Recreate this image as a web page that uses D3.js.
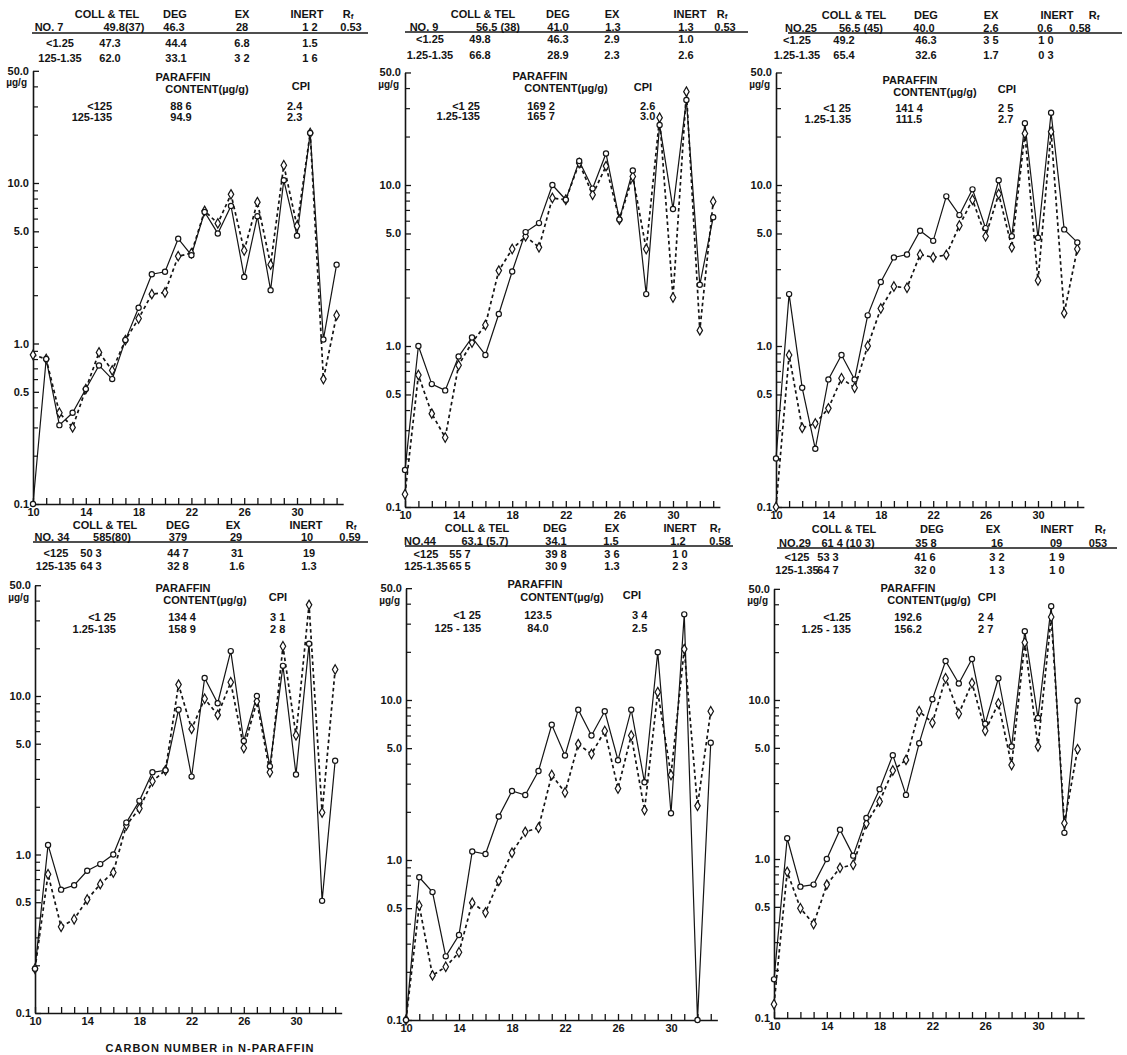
<!DOCTYPE html>
<html>
<head>
<meta charset="utf-8">
<script src="https://cdn.jsdelivr.net/npm/d3@7"></script>
<style>
  body { margin: 0; background: #fff; }
  svg text { font-family: "Liberation Sans", Arial, sans-serif; font-weight: 700; font-size: 11px; fill: #141414; }
  .axis path, .axis line { stroke: #141414; }
</style>
</head>
<body>
<svg id="fig" width="1127" height="1055"></svg>
<script>
// n-paraffin distribution, 6 samples (log scale, µg/g)

const CARBONS = [10, 11, 12, 13, 14, 15, 16, 17, 18, 19, 20, 21, 22, 23, 24, 25, 26, 27, 28, 29, 30, 31, 32, 33];
const X_TICK_LABELS = [10, 14, 18, 22, 26, 30];
const Y_MAJOR = [0.1, 0.5, 1, 5, 10, 50];
const Y_MAJOR_LABELS = ["0.1", "0.5", "1.0", "5.0", "10.0", "50.0"];
const Y_MINOR = [0.2, 0.3, 0.4, 0.6, 0.7, 0.8, 0.9, 2, 3, 4, 6, 7, 8, 9, 20, 30, 40];

const COMP_HEADER = ["COLL & TEL", "DEG", "EX", "INERT", "R"];

// solid line (circles) / dashed line (diamonds), C10..C33
const SOLID_NO7  = [0.1, 0.8, 0.31, 0.37, 0.52, 0.73, 0.6, 1.05, 1.67, 2.7, 2.8, 4.5, 3.55, 6.6, 4.85, 7.2, 2.6, 6.2, 2.15, 10.4, 4.7, 20.5, 1.06, 3.1];
const DASHED_NO7 = [0.85, 0.8, 0.37, 0.3, 0.52, 0.88, 0.68, 1.05, 1.43, 2.03, 2.08, 3.5, 3.65, 6.7, 5.6, 8.5, 3.8, 7.6, 3.1, 12.9, 5.4, 20.5, 0.6, 1.5];

const SOLID_NO9  = [0.17, 1.0, 0.58, 0.53, 0.86, 1.13, 0.88, 1.58, 2.9, 5.1, 5.8, 10.0, 8.1, 14.1, 9.5, 15.7, 6.1, 12.3, 2.1, 23.6, 7.1, 33.7, 2.4, 6.3];
const DASHED_NO9 = [0.12, 0.66, 0.38, 0.27, 0.76, 1.05, 1.35, 2.94, 4.0, 4.8, 4.1, 8.3, 8.1, 13.7, 8.7, 13.1, 6.1, 11.3, 4.0, 26.2, 2.0, 38.0, 1.25, 7.9];

const SOLID_NO25  = [0.2, 2.1, 0.55, 0.23, 0.62, 0.88, 0.62, 1.55, 2.5, 3.55, 3.7, 5.2, 4.5, 8.5, 6.5, 9.4, 5.4, 10.7, 4.8, 24.2, 4.7, 28.1, 5.3, 4.4];
const DASHED_NO25 = [0.1, 0.88, 0.31, 0.33, 0.41, 0.63, 0.55, 1.0, 1.71, 2.34, 2.3, 3.7, 3.55, 3.68, 5.6, 8.1, 4.8, 8.8, 4.1, 20.9, 2.55, 21.4, 1.6, 4.0];

const SOLID_NO34  = [0.19, 1.15, 0.6, 0.64, 0.79, 0.87, 1.0, 1.59, 2.18, 3.3, 3.4, 8.2, 3.1, 13.0, 9.0, 19.2, 5.2, 10.0, 3.6, 15.5, 3.2, 21.4, 0.51, 3.9];
const DASHED_NO34 = [0.19, 0.75, 0.35, 0.39, 0.52, 0.65, 0.77, 1.53, 1.95, 2.9, 3.4, 11.8, 6.2, 9.6, 7.6, 12.2, 4.7, 9.25, 3.3, 20.6, 5.65, 37.6, 1.84, 14.7];

const SOLID_NO44  = [0.1, 0.78, 0.63, 0.25, 0.34, 1.13, 1.09, 1.87, 2.7, 2.55, 3.6, 7.0, 4.5, 8.7, 6.0, 8.5, 4.2, 8.7, 3.06, 19.9, 1.96, 34.3, 0.1, 5.4];
const DASHED_NO44 = [0.1, 0.52, 0.19, 0.215, 0.265, 0.54, 0.47, 0.74, 1.11, 1.5, 1.59, 3.4, 2.64, 5.3, 4.6, 6.4, 2.8, 6.0, 2.05, 11.2, 3.4, 20.8, 2.18, 8.5];

const SOLID_NO29  = [0.175, 1.35, 0.67, 0.69, 1.0, 1.53, 1.05, 1.81, 2.75, 4.5, 2.53, 5.35, 10.1, 17.6, 12.7, 18.1, 7.1, 13.7, 5.1, 27.1, 7.7, 38.9, 1.46, 9.9];
const DASHED_NO29 = [0.122, 0.83, 0.49, 0.39, 0.69, 0.88, 0.92, 1.67, 2.3, 3.6, 4.2, 8.5, 7.2, 13.7, 8.2, 12.8, 6.4, 9.5, 3.9, 23.0, 5.1, 33.3, 1.68, 4.9];

// composition tables (as printed)
const COMP_NO7  = [["NO. 7", "49.8(37)", "46.3", "28", "1 2", "0.53"], ["<1.25", "47.3", "44.4", "6.8", "1.5"], ["125-1.35", "62.0", "33.1", "3 2", "1 6"]];
const COMP_NO9  = [["NO. 9", "56.5 (38)", "41.0", "1.3", "1.3", "0.53"], ["<1.25", "49.8", "46.3", "2.9", "1.0"], ["1.25-1.35", "66.8", "28.9", "2.3", "2.6"]];
const COMP_NO25 = [["NO.25", "56.5 (45)", "40.0", "2.6", "0.6", "0.58"], ["<1.25", "49.2", "46.3", "3 5", "1 0"], ["1.25-1.35", "65.4", "32.6", "1.7", "0 3"]];
const COMP_NO34 = [["NO. 34", "585(80)", "379", "29", "10", "0.59"], ["<125", "50 3", "44 7", "31", "19"], ["125-135", "64 3", "32 8", "1.6", "1.3"]];
const COMP_NO44 = [["NO.44", "63.1 (5.7)", "34.1", "1.5", "1.2", "0.58"], ["<125", "55 7", "39 8", "3 6", "1 0"], ["125-1.35", "65 5", "30 9", "1.3", "2 3"]];
const COMP_NO29 = [["NO.29", "61 4 (10 3)", "35 8", "16", "09", "053"], ["<125", "53 3", "41 6", "3 2", "1 9"], ["125-1.35", "64 7", "32 0", "1 3", "1 0"]];

// paraffin content / CPI
const PAR_NO7  = [["<125", "88 6", "2.4"], ["125-135", "94.9", "2.3"]];
const PAR_NO9  = [["<1 25", "169 2", "2.6"], ["1.25-135", "165 7", "3.0"]];
const PAR_NO25 = [["<1 25", "141 4", "2 5"], ["1.25-1.35", "111.5", "2.7"]];
const PAR_NO34 = [["<1 25", "134 4", "3 1"], ["1.25-135", "158 9", "2 8"]];
const PAR_NO44 = [["<1 25", "123.5", "3 4"], ["125 - 135", "84.0", "2.5"]];
const PAR_NO29 = [["<1.25", "192.6", "2 4"], ["1.25 - 135", "156.2", "2 7"]];

const PANELS = [
  { solid: SOLID_NO7,  dashed: DASHED_NO7,  comp: COMP_NO7,  par: PAR_NO7 },
  { solid: SOLID_NO9,  dashed: DASHED_NO9,  comp: COMP_NO9,  par: PAR_NO9 },
  { solid: SOLID_NO25, dashed: DASHED_NO25, comp: COMP_NO25, par: PAR_NO25 },
  { solid: SOLID_NO34, dashed: DASHED_NO34, comp: COMP_NO34, par: PAR_NO34 },
  { solid: SOLID_NO44, dashed: DASHED_NO44, comp: COMP_NO44, par: PAR_NO44 },
  { solid: SOLID_NO29, dashed: DASHED_NO29, comp: COMP_NO29, par: PAR_NO29 },
];

// page layout of each panel
const LAYOUT = [
  { x0: 33,  step: 13.2,  yB: 504,  yT: 183,
    tb: { hY: 14, r1Y: 27, r2Y: 43, r3Y: 58, ulY: 33, ulX: [32, 368], hX: [107, 175, 242, 307, 348], r1X: [49, 124, 174, 242, 310, 351], rX: [60, 110, 176, 242, 310] },
    lg: { labR: 112, parC: 183, conC: 207, valC: 181, cpiL: 287, cpiHC: 301, yPar: 77, yCon: 89, yCpi: 86, y1: 106, y2: 117 } },
  { x0: 405, step: 13.4,  yB: 507,  yT: 185,
    tb: { hY: 14, r1Y: 27, r2Y: 39, r3Y: 55, ulY: 32, ulX: [405, 748], hX: [483, 558, 612, 690, 722], r1X: [424, 498, 558, 613, 686, 725], rX: [430, 480, 558, 612, 686] },
    lg: { labR: 480, parC: 540, conC: 566, valC: 541, cpiL: 640, cpiHC: 643, yPar: 76, yCon: 88, yCpi: 87, y1: 106, y2: 116 } },
  { x0: 776, step: 13.1,  yB: 507,  yT: 185,
    tb: { hY: 15, r1Y: 28, r2Y: 40, r3Y: 55, ulY: 33, ulX: [788, 1122], hX: [854, 926, 991, 1057, 1094], r1X: [801, 861, 924, 991, 1045, 1080], rX: [797, 844, 926, 991, 1046] },
    lg: { labR: 851, parC: 910, conC: 935, valC: 909, cpiL: 998, cpiHC: 1007, yPar: 80, yCon: 92, yCpi: 89, y1: 108, y2: 119 } },
  { x0: 35,  step: 13.05, yB: 1013, yT: 696,
    tb: { hY: 525, r1Y: 537, r2Y: 553, r3Y: 566, ulY: 542, ulX: [33, 368], hX: [105, 178, 233, 306, 351], r1X: [52, 112, 178, 236, 307, 350], rX: [56, 91, 178, 237, 309] },
    lg: { labR: 116, parC: 183, conC: 205, valC: 182, cpiL: 270, cpiHC: 278, yPar: 588, yCon: 600, yCpi: 597, y1: 617, y2: 629 } },
  { x0: 406, step: 13.25, yB: 1020, yT: 700,
    tb: { hY: 528, r1Y: 541, r2Y: 554, r3Y: 566, ulY: 546, ulX: [405, 733], hX: [477, 555, 612, 680, 715], r1X: [420, 485, 556, 611, 678, 720], rX: [426, 460, 556, 612, 680] },
    lg: { labR: 481, parC: 535, conC: 562, valC: 538, cpiL: 632, cpiHC: 632, yPar: 584, yCon: 597, yCpi: 595, y1: 615, y2: 628 } },
  { x0: 774, step: 13.2,  yB: 1018, yT: 700,
    tb: { hY: 529, r1Y: 543, r2Y: 557, r3Y: 570, ulY: 548, ulX: [777, 1117], hX: [844, 932, 993, 1057, 1100], r1X: [795, 848, 926, 997, 1056, 1098], rX: [797, 828, 925, 997, 1057] },
    lg: { labR: 851, parC: 908, conC: 929, valC: 908, cpiL: 978, cpiHC: 987, yPar: 588, yCon: 600, yCpi: 597, y1: 617, y2: 629 } },
];

const svg = d3.select("#fig");

PANELS.forEach((p, i) => drawPanel(p, LAYOUT[i]));

svg.append("text")
  .attr("x", 210).attr("y", 1048).attr("dy", "0.35em")
  .attr("text-anchor", "middle")
  .style("letter-spacing", "1px")
  .text("CARBON NUMBER in N-PARAFFIN");

function drawPanel(p, L) {
  const g = svg.append("g");
  const dec = (L.yB - L.yT) / 2;

  const x = d3.scaleLinear()
    .domain([10, 33.5])
    .range([L.x0, L.x0 + 23.5 * L.step]);
  const y = d3.scaleLog()
    .domain([0.1, 50])
    .range([L.yB, L.yB - dec * Math.log10(500)]);

  // axe Y : graduations mineures puis majeures (vers l'intérieur)
  g.append("g")
    .attr("class", "axis")
    .attr("transform", `translate(${L.x0},0)`)
    .call(d3.axisLeft(y).tickValues(Y_MINOR).tickFormat("").tickSizeInner(-5).tickSizeOuter(0))
    .call(a => a.select(".domain").remove())
    .selectAll("line").attr("stroke-width", 1.2);

  const yAx = g.append("g")
    .attr("class", "axis")
    .attr("transform", `translate(${L.x0},0)`)
    .call(d3.axisLeft(y).tickValues(Y_MAJOR).tickFormat((d, k) => Y_MAJOR_LABELS[k])
      .tickSizeInner(-6).tickSizeOuter(0).tickPadding(4));
  yAx.select(".domain").attr("stroke-width", 1.6);
  yAx.selectAll("line").attr("stroke-width", 1.3);

  g.append("text")
    .attr("x", L.x0 - 6).attr("y", y(50) + 12).attr("dy", "0.35em")
    .attr("text-anchor", "end")
    .style("font-size", "10px")
    .text("µg/g");

  // axe X
  const xAx = g.append("g")
    .attr("class", "axis")
    .attr("transform", `translate(0,${L.yB})`)
    .call(d3.axisBottom(x).tickValues(CARBONS)
      .tickFormat(d => X_TICK_LABELS.includes(d) ? d : "")
      .tickSizeInner(-6).tickSizeOuter(0).tickPadding(4));
  xAx.select(".domain").attr("stroke-width", 1.6);
  xAx.selectAll("line").attr("stroke-width", 1.3);

  // lignes
  const line = d3.line()
    .x((d, k) => x(CARBONS[k]))
    .y(d => y(d));

  g.append("path")
    .attr("d", line(p.dashed))
    .attr("fill", "none")
    .attr("stroke", "#141414")
    .attr("stroke-width", 1.7)
    .attr("stroke-dasharray", "3.5,3");

  g.append("path")
    .attr("d", line(p.solid))
    .attr("fill", "none")
    .attr("stroke", "#141414")
    .attr("stroke-width", 1.2);

  g.append("g").selectAll("path")
    .data(p.dashed)
    .join("path")
      .attr("transform", (d, k) => `translate(${x(CARBONS[k])},${y(d)})`)
      .attr("d", d3.symbol(d3.symbolDiamond, 26))
      .attr("fill", "#fff")
      .attr("stroke", "#141414")
      .attr("stroke-width", 1.2);

  g.append("g").selectAll("circle")
    .data(p.solid)
    .join("circle")
      .attr("cx", (d, k) => x(CARBONS[k]))
      .attr("cy", d => y(d))
      .attr("r", 2.6)
      .attr("fill", "#fff")
      .attr("stroke", "#141414")
      .attr("stroke-width", 1.2);

  // tableau de composition
  const T = L.tb;
  COMP_HEADER.forEach((h, k) => {
    const t = g.append("text")
      .attr("x", T.hX[k]).attr("y", T.hY).attr("dy", "0.35em")
      .attr("text-anchor", "middle")
      .text(h);
    if (k === COMP_HEADER.length - 1) {
      t.append("tspan").attr("dy", "1.5").style("font-size", "8px").text("f");
    }
  });
  p.comp[0].forEach((v, k) => {
    g.append("text")
      .attr("x", T.r1X[k]).attr("y", T.r1Y).attr("dy", "0.35em")
      .attr("text-anchor", "middle").text(v);
  });
  g.append("line")
    .attr("x1", T.ulX[0]).attr("x2", T.ulX[1])
    .attr("y1", T.ulY).attr("y2", T.ulY)
    .attr("stroke", "#141414").attr("stroke-width", 1.4);
  [T.r2Y, T.r3Y].forEach((ry, r) => {
    p.comp[r + 1].forEach((v, k) => {
      g.append("text")
        .attr("x", T.rX[k]).attr("y", ry).attr("dy", "0.35em")
        .attr("text-anchor", "middle").text(v);
    });
  });

  // teneur en paraffines / CPI
  const G = L.lg;
  g.append("text").attr("x", G.parC).attr("y", G.yPar).attr("dy", "0.35em")
    .attr("text-anchor", "middle").text("PARAFFIN");
  g.append("text").attr("x", G.conC).attr("y", G.yCon).attr("dy", "0.35em")
    .attr("text-anchor", "middle").text("CONTENT(µg/g)");
  g.append("text").attr("x", G.cpiHC).attr("y", G.yCpi).attr("dy", "0.35em")
    .attr("text-anchor", "middle").text("CPI");
  [G.y1, G.y2].forEach((ry, r) => {
    const row = p.par[r];
    g.append("text").attr("x", G.labR).attr("y", ry).attr("dy", "0.35em")
      .attr("text-anchor", "end").text(row[0]);
    g.append("text").attr("x", G.valC).attr("y", ry).attr("dy", "0.35em")
      .attr("text-anchor", "middle").text(row[1]);
    g.append("text").attr("x", G.cpiL).attr("y", ry).attr("dy", "0.35em")
      .attr("text-anchor", "start").text(row[2]);
  });
}
</script>
</body>
</html>
